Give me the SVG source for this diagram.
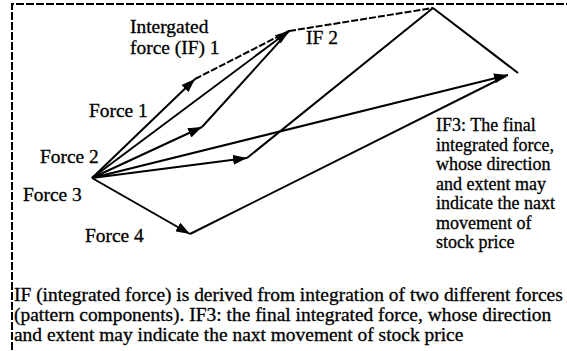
<svg xmlns="http://www.w3.org/2000/svg" width="567" height="351" viewBox="0 0 567 351">
<defs>
<marker id="ah" markerUnits="userSpaceOnUse" markerWidth="14" markerHeight="10" refX="14" refY="5" orient="auto">
<path d="M0,0 L14,5 L0,10 z" fill="#000"/>
</marker>
<style>
.t{font-family:"Liberation Serif","Times New Roman",serif;font-size:18px;fill:#000;stroke:#000;stroke-width:0.3}
.ln{stroke:#000;stroke-width:2;fill:none}
.ds{stroke:#000;stroke-width:2;fill:none;stroke-dasharray:7 2}
.fr{stroke:#000;stroke-width:2;fill:none;stroke-dasharray:8 2}
</style>
</defs>
<rect width="567" height="351" fill="#fff"/>
<path class="fr" d="M12,360 L12,4 L575,4"/>
<g id="connectors">
<line class="ln" x1="92" y1="178" x2="195" y2="79" marker-end="url(#ah)"/>
<line class="ln" x1="92" y1="178" x2="289" y2="31" marker-end="url(#ah)"/>
<line class="ln" x1="92" y1="178" x2="202" y2="127" marker-end="url(#ah)"/>
<line class="ln" x1="92" y1="178" x2="247" y2="158" marker-end="url(#ah)"/>
<line class="ln" x1="92" y1="178" x2="190" y2="234" marker-end="url(#ah)"/>
<line class="ln" x1="92" y1="178" x2="508" y2="75" marker-end="url(#ah)"/>
<line class="ds" x1="195" y1="79" x2="289" y2="31"/>
<line class="ln" x1="202" y1="127" x2="289" y2="31"/>
<line class="ds" x1="289" y1="31" x2="433" y2="8"/>
<line class="ln" x1="247" y1="158" x2="433" y2="8"/>
<line class="ln" x1="433" y1="8" x2="518" y2="73"/>
<line class="ln" x1="190" y1="234" x2="506" y2="76"/>
</g>
<g id="if1-label">
<text class="t" transform="translate(130,33) scale(1.08,1)">Intergated</text>
<text class="t" transform="translate(130,54) scale(1.08,1)">force (IF) 1</text>
</g>
<g id="if2-label"><text class="t" transform="translate(306,44) scale(1.08,1)">IF 2</text></g>
<g id="force1"><text class="t" transform="translate(89,117) scale(1.08,1)">Force 1</text></g>
<g id="force2"><text class="t" transform="translate(40,163) scale(1.08,1)">Force 2</text></g>
<g id="force3"><text class="t" transform="translate(23,201) scale(1.08,1)">Force 3</text></g>
<g id="force4"><text class="t" transform="translate(85,242) scale(1.08,1)">Force 4</text></g>
<g id="if3-label">
<text class="t" x="436" y="131">IF3: The final</text>
<text class="t" x="436" y="151">integrated force,</text>
<text class="t" x="436" y="170">whose direction</text>
<text class="t" x="436" y="190">and extent may</text>
<text class="t" x="436" y="209">indicate the naxt</text>
<text class="t" x="436" y="229">movement of</text>
<text class="t" x="436" y="248">stock price</text>
</g>
<g id="caption" transform="translate(14,0) scale(1.08,1)">
<text class="t" x="0" y="301">IF (integrated force) is derived from integration of two different forces</text>
<text class="t" x="0" y="321">(pattern components). IF3: the final integrated force, whose direction</text>
<text class="t" x="0" y="341">and extent may indicate the naxt movement of stock price</text>
</g>
</svg>
